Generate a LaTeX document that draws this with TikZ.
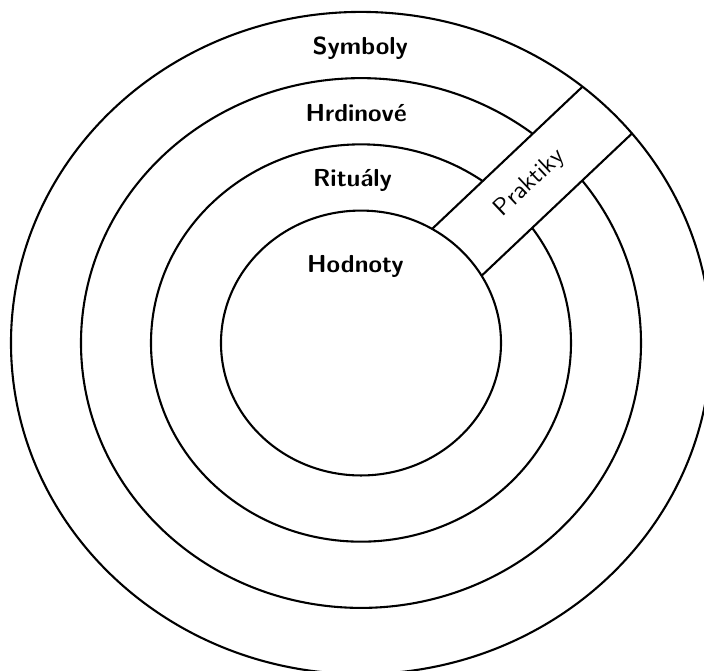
\documentclass[tikz,border=0pt]{standalone}
\usepackage{fontspec}
\begin{document}
\begin{tikzpicture}[yscale=0.946, line width=0.85pt,
  ring/.style={draw=black},
  layerlabel/.style={font=\sffamily\bfseries},
  bandlabel/.style={font=\sffamily, rotate=43.4}]
\useasboundingbox (-5.157,-4.938) rectangle (4.9,5.18);
% middle rings
\draw[ring] (0,0) circle (3);
\draw[ring] (0,0) circle (4);
% band
\begin{scope}[rotate=45]
  \fill[white] ({sqrt(3.75)},-0.5) -- ({sqrt(24.75)},-0.5) arc[start angle=-5.739, end angle=5.739, radius=5]
     -- ({sqrt(3.75)},0.5) arc[start angle=14.4775, end angle=-14.4775, radius=2] -- cycle;
  \coordinate (bl1) at ({sqrt(3.75)},0.5);
  \coordinate (bl2) at ({sqrt(24.75)},0.5);
  \coordinate (br1) at ({sqrt(3.75)},-0.5);
  \coordinate (br2) at ({sqrt(24.75)},-0.5);
  \draw (bl1) -- (bl2);
  \draw (br1) -- (br2);
  \coordinate (bandmid) at (3.414,0);
\end{scope}
% inner and outer rings
\draw[ring] (0,0) circle (2);
\draw[ring] (0,0) circle (5);
% labels
\node[layerlabel] (symboly) at (-0.01,4.456) {Symboly};
\node[layerlabel] (hrdinove) at (-0.07,3.474) {Hrdinové};
\node[layerlabel] (ritualy) at (-0.12,2.46) {Rituály};
\node[layerlabel] (hodnoty) at (-0.08,1.163) {Hodnoty};
\node[bandlabel] (praktiky) at (bandmid) {Praktiky};
\end{tikzpicture}
\end{document}
